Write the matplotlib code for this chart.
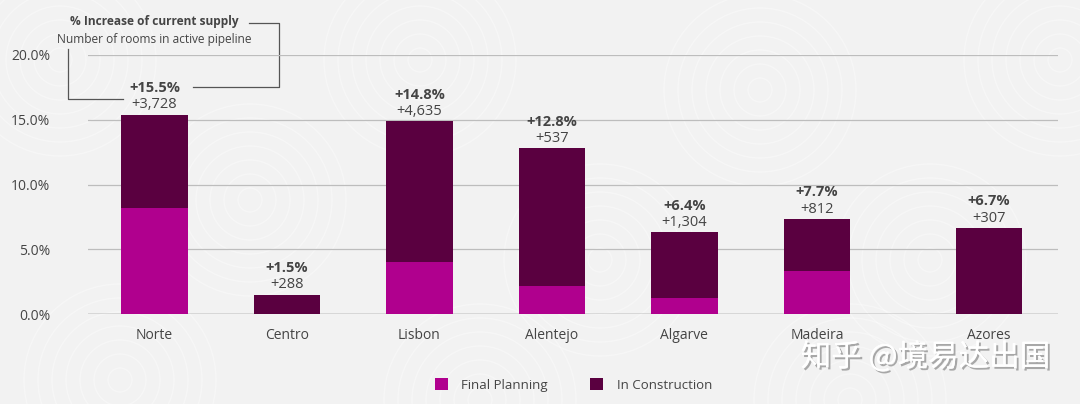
import numpy as np
import matplotlib
matplotlib.use("Agg")
import matplotlib.pyplot as plt
from matplotlib.patches import Circle
import matplotlib.patheffects as pe

regions = ["Norte", "Centro", "Lisbon", "Alentejo", "Algarve", "Madeira", "Azores"]
final_planning = [8.2, 0.0, 4.0, 2.2, 1.2, 3.3, 0.0]
in_construction = [7.2, 1.5, 10.9, 10.6, 5.1, 4.05, 6.65]
pct_labels = ["+15.5%", "+1.5%", "+14.8%", "+12.8%", "+6.4%", "+7.7%", "+6.7%"]
room_labels = ["+3,728", "+288", "+4,635", "+537", "+1,304", "+812", "+307"]
yticks = [0, 5, 10, 15, 20]

c_fp = "#B0008E"
c_ic = "#5A0040"
txt = "#444444"
bg = "#F2F2F2"

plt.rcParams["font.family"] = ["Open Sans", "DejaVu Sans"]

fig = plt.figure(figsize=(10.8, 4.04), dpi=100, facecolor=bg)

# faint background pattern
bgax = fig.add_axes([0, 0, 1, 1], zorder=-5)
bgax.set_xlim(0, 1080)
bgax.set_ylim(404, 0)
bgax.axis("off")
for cx, cy in [(60, 60), (250, 200), (420, 60), (600, 260), (760, 90), (930, 260), (1060, 60), (120, 380), (480, 400), (850, 400)]:
    for r in range(12, 110, 14):
        bgax.add_patch(Circle((cx, cy), r, fill=False, ec="white", lw=1.0, alpha=0.35))

ax = fig.add_axes([88 / 1080, 1 - 314 / 404, (1058 - 88) / 1080, (314 - 55) / 404])
ax.set_facecolor("none")

x = np.arange(len(regions), dtype=float)
x[-1] += 0.3  # Azores sits a bit further out

fp = np.array(final_planning)
ic = np.array(in_construction)
ax.bar(x, fp, width=0.5, color=c_fp, label="Final Planning", zorder=3)
ax.bar(x, ic, width=0.5, bottom=fp, color=c_ic, label="In Construction", zorder=3)

tot = fp + ic
for xi, t, p, r in zip(x, tot, pct_labels, room_labels):
    ax.annotate(r, (xi, t), xytext=(0, 1.5), textcoords="offset points",
                ha="center", va="bottom", fontsize=10.5, color=txt)
    ax.annotate(p, (xi, t), xytext=(0, 14), textcoords="offset points",
                ha="center", va="bottom", fontsize=10.5, fontweight="bold", color=txt)

ax.set_xlim(-0.502, 6.82)
ax.set_ylim(0, 20)
ax.set_yticks(yticks)
ax.set_yticklabels([f"{v:.1f}%" for v in yticks])
ax.set_xticks(x)
ax.set_xticklabels(regions)
ax.tick_params(length=0, labelsize=10, colors=txt)
ax.tick_params(axis="y", pad=27)
ax.tick_params(axis="x", pad=10)
for s in ax.spines.values():
    s.set_visible(False)
ax.grid(axis="y", color="#BDBDBD", lw=0.9, zorder=0)
ax.axhline(0, color="#888888", lw=1, zorder=2)

# header annotation with brackets
fig.text(154 / 1080, 1 - 22 / 404, "% Increase of current supply", ha="center", va="center",
         fontsize=8.6, fontweight="bold", color=txt)
fig.text(154 / 1080, 1 - 39 / 404, "Number of rooms in active pipeline", ha="center", va="center",
         fontsize=8.6, color=txt)
lax = fig.add_axes([0, 0, 1, 1], zorder=-1)
lax.set_xlim(0, 1080)
lax.set_ylim(404, 0)
lax.axis("off")
lax.plot([249, 279, 279, 193], [23, 23, 87, 87], color="#555555", lw=0.9)
lax.plot([68, 68, 123], [49, 99, 99], color="#555555", lw=0.9)

fig.legend(loc="center", bbox_to_anchor=(0.531, 0.047), ncol=2, frameon=False,
           fontsize=9.5, labelcolor=txt, handlelength=1.0, handleheight=1.0,
           columnspacing=3.2, handletextpad=1.0)

fig.text(1050 / 1080, 1 - 357 / 404, "知乎 @境易达出国", ha="right", va="center",
         fontsize=22, color="white", family=["Noto Sans CJK SC", "DejaVu Sans"],
         path_effects=[pe.withSimplePatchShadow(offset=(1.5, -1.5), shadow_rgbFace="#888888", alpha=0.7),
                       pe.Normal()])

fig.savefig("out.png", dpi=100, facecolor=bg)
